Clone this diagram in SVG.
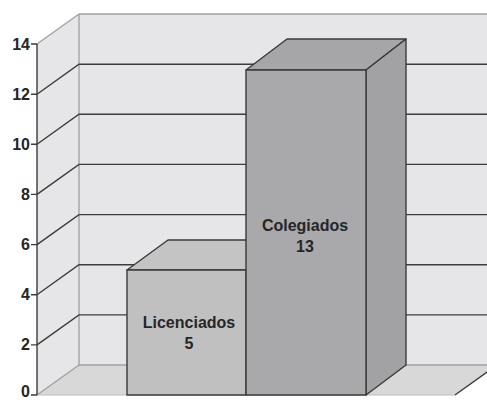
<svg xmlns="http://www.w3.org/2000/svg" width="487" height="400" viewBox="0 0 487 400">
<style>
.wall{fill:#e6e6e8;stroke:none}
.grid{stroke:#3c3c3c;stroke-width:1.4;fill:none}
.edge{stroke:#a0a0a0;stroke-width:1.3;fill:none}
.bar{stroke:#3a3a3a;stroke-width:1.4;stroke-linejoin:round}
.ax{font-family:"Liberation Sans",Arial,sans-serif;font-weight:bold;font-size:16px;fill:#262626;text-anchor:end}
.val{font-family:"Liberation Sans",Arial,sans-serif;font-weight:bold;font-size:16px;fill:#262626;text-anchor:middle}
</style>
<rect width="487" height="400" fill="#ffffff"/>
<g id="walls">
<polygon class="wall" points="79,14 487,14 487,365 79,365"/>
<polygon class="wall" points="37,44 79,14 79,365 37,395"/>
<polygon points="37,395 79,365 497,365 455,395" fill="#d8d8d9"/>
<line class="edge" x1="79" y1="14" x2="487" y2="14"/>
<line class="edge" x1="37" y1="44" x2="79" y2="14"/>
<line class="edge" x1="79" y1="14" x2="79" y2="365"/>
<line class="edge" x1="37" y1="395" x2="79" y2="365"/>
<line class="edge" x1="79" y1="365" x2="487" y2="365"/>
<line x1="455" y1="395" x2="497" y2="365" stroke="#3c3c3c" stroke-width="1.4"/>
<line x1="37" y1="395" x2="455" y2="395" stroke="#bdbdbd" stroke-width="1"/>
</g>
<g id="grid">
<path class="grid" d="M37,344.9 L79,314.9 L487,314.9 M37,294.7 L79,264.7 L487,264.7 M37,244.6 L79,214.6 L487,214.6 M37,194.4 L79,164.4 L487,164.4 M37,144.3 L79,114.3 L487,114.3 M37,94.2 L79,64.2 L487,64.2"/>
</g>
<g id="axis">
<path d="M37,44 L37,395 M31,44 L37,44 M31,94.2 L37,94.2 M31,144.3 L37,144.3 M31,194.4 L37,194.4 M31,244.6 L37,244.6 M31,294.7 L37,294.7 M31,344.9 L37,344.9 M31,395 L37,395" stroke="#3c3c3c" stroke-width="1.4" fill="none"/>
<text class="ax" x="30" y="50">14</text>
<text class="ax" x="30" y="100">12</text>
<text class="ax" x="30" y="150">10</text>
<text class="ax" x="30" y="200">8</text>
<text class="ax" x="30" y="250">6</text>
<text class="ax" x="30" y="300">4</text>
<text class="ax" x="30" y="350">2</text>
<text class="ax" x="30" y="397">0</text>
</g>
<g id="licenciados">
<polygon class="bar" points="127,270 246,270 287,240 168,240" fill="#c4c4c5"/>
<rect class="bar" x="127" y="270" width="119" height="125" fill="#c0c0c1"/>
<text class="val" x="189" y="328">Licenciados</text>
<text class="val" x="189" y="349">5</text>
</g>
<g id="colegiados">
<polygon class="bar" points="246,70 366,70 406,39 287,39" fill="#a6a6a8"/>
<polygon class="bar" points="366,70 406,39 406,365 366,395" fill="#a2a2a4"/>
<rect class="bar" x="246" y="70" width="120" height="325" fill="#a9a9ab"/>
<text class="val" x="305" y="231">Colegiados</text>
<text class="val" x="305" y="252">13</text>
</g>
</svg>
